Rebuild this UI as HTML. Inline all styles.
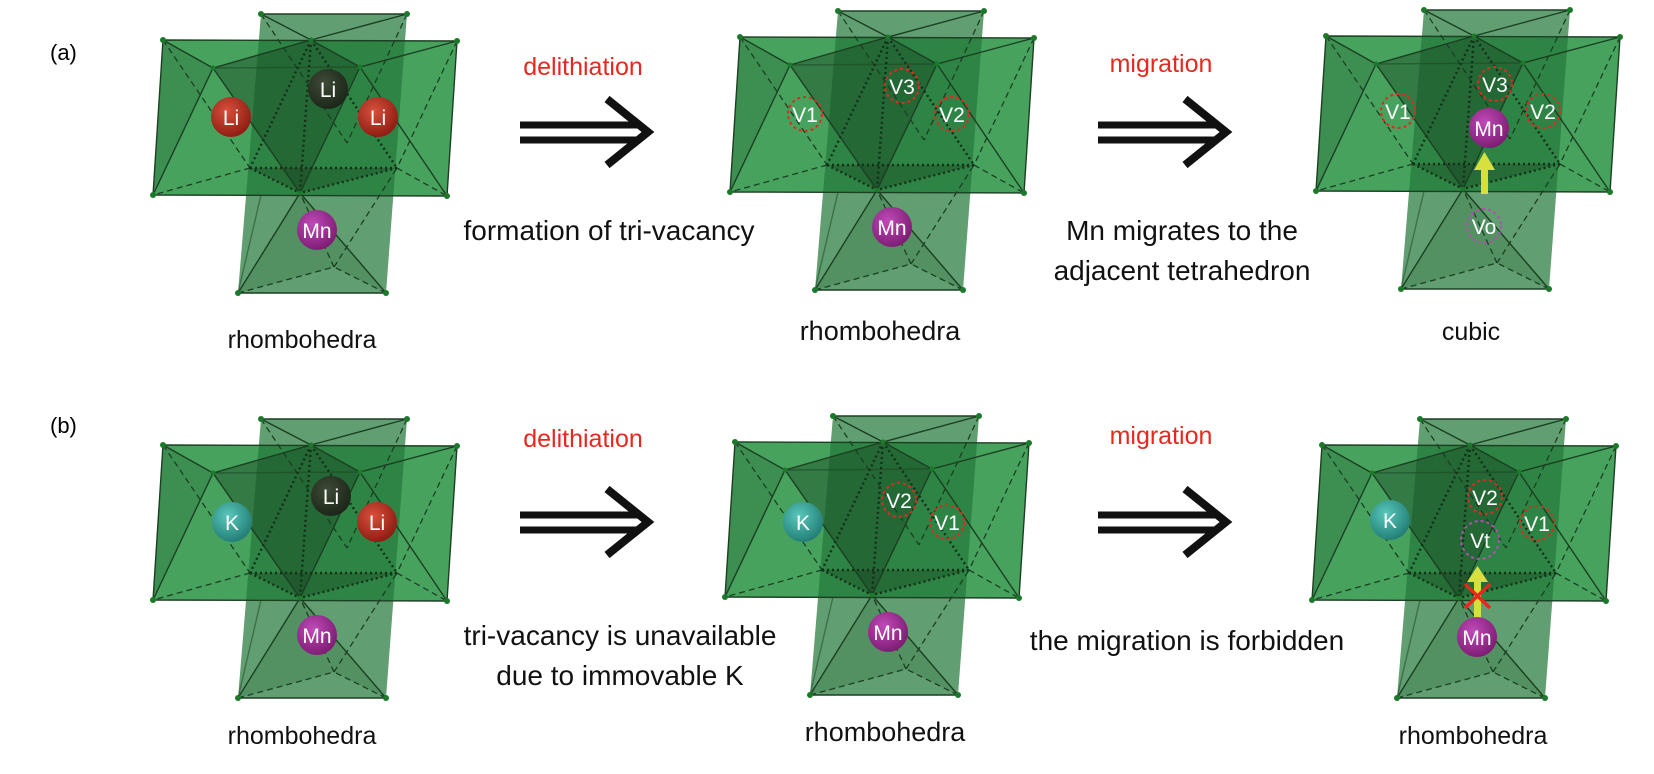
<!DOCTYPE html>
<html><head><meta charset="utf-8"><style>
html,body{margin:0;padding:0;background:#fff;}
svg{display:block;}
text{font-family:"Liberation Sans",Arial,sans-serif;}
</style></head><body>
<svg width="1654" height="774" viewBox="0 0 1654 774" xmlns="http://www.w3.org/2000/svg">
<defs>
<radialGradient id="gr" cx="0.4" cy="0.35" r="0.7"><stop offset="0" stop-color="#d8503c"/><stop offset="1" stop-color="#8a1a10"/></radialGradient>
<radialGradient id="gd" cx="0.4" cy="0.35" r="0.7"><stop offset="0" stop-color="#3f4a36"/><stop offset="1" stop-color="#1a2418"/></radialGradient>
<radialGradient id="gm" cx="0.4" cy="0.35" r="0.7"><stop offset="0" stop-color="#c04ab8"/><stop offset="1" stop-color="#7a1a70"/></radialGradient>
<radialGradient id="gk" cx="0.4" cy="0.35" r="0.7"><stop offset="0" stop-color="#5ac8bc"/><stop offset="1" stop-color="#1f7a72"/></radialGradient>
<g id="s">
 <polygon points="163,40 457,41 447,196 153,195" fill="#33984c" fill-opacity="0.9"/>
 <polygon points="163,40 213,68 153,195" fill="#2a6a38" fill-opacity="0.35"/>
 <polygon points="261,14 407,14 386,293 238,293" fill="#24783a" fill-opacity="0.72"/>
 <polygon points="311,40 213,68 300,193 360,67" fill="#173f20" fill-opacity="0.4"/>
 <polygon points="250,168 397,168 300,193" fill="#173f20" fill-opacity="0.35"/>
 <polygon points="300,193 238,293 334,267 386,293" fill="#2a6a38" fill-opacity="0.25"/>
 <g stroke="#1c3f22" stroke-width="1.4" fill="none">
  <polyline points="163,40 457,41 447,196 153,195 163,40"/>
  <polyline points="261,14 407,14"/>
  <line x1="261" y1="14" x2="311" y2="40"/><line x1="407" y1="14" x2="311" y2="40"/>
  <line x1="163" y1="40" x2="213" y2="68"/><line x1="213" y1="68" x2="153" y2="195"/>
  <line x1="213" y1="68" x2="300" y2="193"/><line x1="213" y1="68" x2="311" y2="40"/>
  <line x1="311" y1="40" x2="360" y2="67"/><line x1="360" y1="67" x2="457" y2="41"/>
  <line x1="360" y1="67" x2="300" y2="193"/><line x1="360" y1="67" x2="447" y2="196"/>
  <line x1="213" y1="68" x2="360" y2="67" stroke-opacity="0.5"/>
  <line x1="300" y1="193" x2="238" y2="293"/><line x1="300" y1="193" x2="386" y2="293"/>
  <line x1="238" y1="293" x2="386" y2="293"/>
  <line x1="238" y1="293" x2="261" y2="195" stroke-opacity="0.5"/>
 </g>
 <g stroke="#1c3f22" stroke-width="1.3" fill="none" stroke-dasharray="6,4">
  <line x1="163" y1="40" x2="250" y2="168"/><line x1="250" y1="168" x2="153" y2="195"/>
  <line x1="457" y1="41" x2="397" y2="168"/><line x1="397" y1="168" x2="447" y2="196"/>
  <line x1="238" y1="293" x2="334" y2="267"/><line x1="386" y1="293" x2="334" y2="267"/>
  <line x1="334" y1="267" x2="300" y2="193"/><line x1="334" y1="267" x2="397" y2="168"/>
  <line x1="261" y1="14" x2="347" y2="143"/><line x1="407" y1="14" x2="347" y2="143"/>
 </g>
 <g stroke="#143018" stroke-width="2.4" fill="none" stroke-dasharray="2,3">
  <line x1="250" y1="168" x2="397" y2="168"/><line x1="250" y1="168" x2="300" y2="193"/>
  <line x1="397" y1="168" x2="300" y2="193"/><line x1="311" y1="40" x2="250" y2="168"/>
  <line x1="311" y1="40" x2="397" y2="168"/><line x1="311" y1="40" x2="300" y2="193"/>
 </g>
 <g fill="#1a7a2a">
  <circle cx="163" cy="40" r="3"/><circle cx="457" cy="41" r="3"/><circle cx="447" cy="196" r="3"/><circle cx="153" cy="195" r="3"/>
  <circle cx="261" cy="14" r="3"/><circle cx="407" cy="14" r="3"/><circle cx="238" cy="293" r="3"/><circle cx="386" cy="293" r="3"/>
  <circle cx="311" cy="40" r="2.5"/><circle cx="213" cy="68" r="2.5"/><circle cx="360" cy="67" r="2.5"/><circle cx="300" cy="193" r="2.5"/>
 </g>
</g>
<g id="arr" stroke="#111" fill="none">
 <line x1="520" y1="125" x2="640" y2="125" stroke-width="7"/>
 <line x1="520" y1="140" x2="640" y2="140" stroke-width="7"/>
 <polyline points="607,99 648,132 607,165" stroke-width="8"/>
</g>
</defs>

<text x="50" y="60" font-size="22">(a)</text>
<text x="50" y="433" font-size="22">(b)</text>

<use href="#s"/>
<use href="#s" transform="translate(577,-3)"/>
<use href="#s" transform="translate(1163,-4)"/>
<use href="#s" transform="translate(0,405)"/>
<use href="#s" transform="translate(572,402)"/>
<use href="#s" transform="translate(1159,405)"/>

<use href="#arr"/>
<use href="#arr" transform="translate(578,0)"/>
<use href="#arr" transform="translate(0,390)"/>
<use href="#arr" transform="translate(578,390)"/>

<g font-size="25" fill="#e8281e" text-anchor="middle">
<text x="583" y="75">delithiation</text>
<text x="1161" y="72">migration</text>
<text x="583" y="447">delithiation</text>
<text x="1161" y="444">migration</text>
</g>

<g font-size="28" fill="#111" text-anchor="middle">
<text x="609" y="240">formation of tri-vacancy</text>
<text x="1182" y="240">Mn migrates to the</text>
<text x="1182" y="280">adjacent tetrahedron</text>
<text x="620" y="645">tri-vacancy is unavailable</text>
<text x="620" y="685">due to immovable K</text>
<text x="1187" y="650">the migration is forbidden</text>
</g>
<g font-size="25" fill="#111" text-anchor="middle">
<text x="302" y="348">rhombohedra</text>
<text x="880" y="340" font-size="27">rhombohedra</text>
<text x="1471" y="340">cubic</text>
<text x="302" y="744">rhombohedra</text>
<text x="885" y="741" font-size="27">rhombohedra</text>
<text x="1473" y="744">rhombohedra</text>
</g>

<g font-size="21" fill="#fff" text-anchor="middle">
<circle cx="231" cy="117" r="20" fill="url(#gr)"/><text x="231" y="125">Li</text>
<circle cx="328" cy="89" r="20" fill="url(#gd)"/><text x="328" y="97">Li</text>
<circle cx="378" cy="117" r="20" fill="url(#gr)"/><text x="378" y="125">Li</text>
<circle cx="317" cy="230" r="20" fill="url(#gm)"/><text x="317" y="238">Mn</text>

<g fill="none" stroke="#e02a20" stroke-width="2" stroke-dasharray="3,3">
<circle cx="805" cy="114" r="17"/><circle cx="902" cy="86" r="17"/><circle cx="952" cy="114" r="17"/>
</g>
<text x="805" y="122">V1</text><text x="902" y="94">V3</text><text x="952" y="122">V2</text>
<circle cx="892" cy="227" r="20" fill="url(#gm)"/><text x="892" y="235">Mn</text>

<g fill="none" stroke="#e02a20" stroke-width="2" stroke-dasharray="3,3">
<circle cx="1398" cy="111" r="17"/><circle cx="1495" cy="84" r="17"/><circle cx="1543" cy="111" r="17"/>
</g>
<circle cx="1484" cy="226" r="17" fill="none" stroke="#b050b0" stroke-width="2" stroke-dasharray="3,3"/>
<text x="1398" y="119">V1</text><text x="1495" y="92">V3</text><text x="1543" y="119">V2</text>
<text x="1484" y="234">Vo</text>
<rect x="1481" y="168" width="7" height="26" fill="#d8e040"/>
<polygon points="1474,170 1495,170 1484.5,152" fill="#d8e040"/>
<circle cx="1489" cy="128" r="20" fill="url(#gm)"/><text x="1489" y="136">Mn</text>

<circle cx="232" cy="522" r="20" fill="url(#gk)"/><text x="232" y="530">K</text>
<circle cx="331" cy="496" r="20" fill="url(#gd)"/><text x="331" y="504">Li</text>
<circle cx="377" cy="522" r="20" fill="url(#gr)"/><text x="377" y="530">Li</text>
<circle cx="317" cy="635" r="20" fill="url(#gm)"/><text x="317" y="643">Mn</text>

<circle cx="803" cy="522" r="20" fill="url(#gk)"/><text x="803" y="530">K</text>
<g fill="none" stroke="#e02a20" stroke-width="2" stroke-dasharray="3,3">
<circle cx="899" cy="500" r="17"/><circle cx="947" cy="522" r="17"/>
</g>
<text x="899" y="508">V2</text><text x="947" y="530">V1</text>
<circle cx="888" cy="632" r="20" fill="url(#gm)"/><text x="888" y="640">Mn</text>

<circle cx="1390" cy="520" r="20" fill="url(#gk)"/><text x="1390" y="528">K</text>
<g fill="none" stroke="#e02a20" stroke-width="2" stroke-dasharray="3,3">
<circle cx="1485" cy="497" r="17"/><circle cx="1537" cy="523" r="17"/>
</g>
<circle cx="1480" cy="540" r="19" fill="none" stroke="#b050b0" stroke-width="2" stroke-dasharray="3,3"/>
<text x="1485" y="505">V2</text><text x="1537" y="531">V1</text><text x="1480" y="548">Vt</text>
<rect x="1474" y="580" width="7" height="38" fill="#d8e040"/>
<polygon points="1467,582 1488,582 1477.5,566" fill="#d8e040"/>
<g stroke="#e8281e" stroke-width="3.5"><line x1="1465" y1="584" x2="1490" y2="608"/><line x1="1490" y1="584" x2="1465" y2="608"/></g>
<circle cx="1477" cy="637" r="20" fill="url(#gm)"/><text x="1477" y="645">Mn</text>
</g>
</svg>
</body></html>
